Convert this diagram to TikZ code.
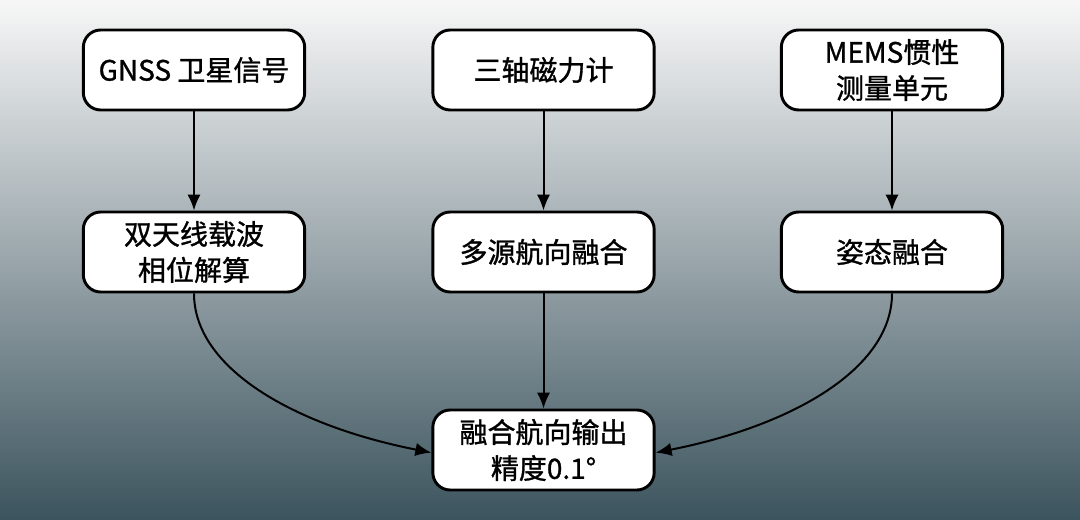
\documentclass[tikz,border=0pt]{standalone}
\usepackage{fontspec}
\setmainfont{Noto Sans CJK SC}[FakeBold=1.1]
\usetikzlibrary{arrows.meta}
\definecolor{bgtop}{HTML}{F7F7F7}
\definecolor{bgbot}{HTML}{3C545E}
\tikzset{
  box/.style={draw=black, line width=2.2pt, fill=white, rounded corners=13pt,
    minimum width=166pt, minimum height=60pt, align=center,
    font=\fontsize{21pt}{27pt}\selectfont, inner sep=2pt},
  arr/.style={line width=1.5pt, -{Latex[length=12pt,width=10pt]}}
}
\begin{document}
\begin{tikzpicture}[x=0.75pt,y=0.75pt]
\shade[top color=bgtop, bottom color=bgbot] (0,0) rectangle (1080,520);
\useasboundingbox (0,0) rectangle (1080,520);
\node[box] (gnss) at (194,450) {GNSS 卫星信号};
\node[box] (mag) at (543.5,450) {三轴磁力计};
\node[box] (mems) at (892,450) {MEMS惯性\\测量单元};
\node[box] (dual) at (194,268) {双天线载波\\相位解算};
\node[box] (multi) at (543.5,268) {多源航向融合};
\node[box] (att) at (892,268) {姿态融合};
\node[box] (out) at (543.5,70) {融合航向输出\\精度0.1°};
\draw[arr] (gnss) -- (dual);
\draw[arr] (mag) -- (multi);
\draw[arr] (mems) -- (att);
\draw[arr] (multi) -- (out);
\draw[arr] (dual.south) .. controls +(0,-75) and +(-137,27) .. ([yshift=-2pt]out.west);
\draw[arr] (att.south) .. controls +(0,-75) and +(137,27) .. ([yshift=-2pt]out.east);
\end{tikzpicture}
\end{document}
